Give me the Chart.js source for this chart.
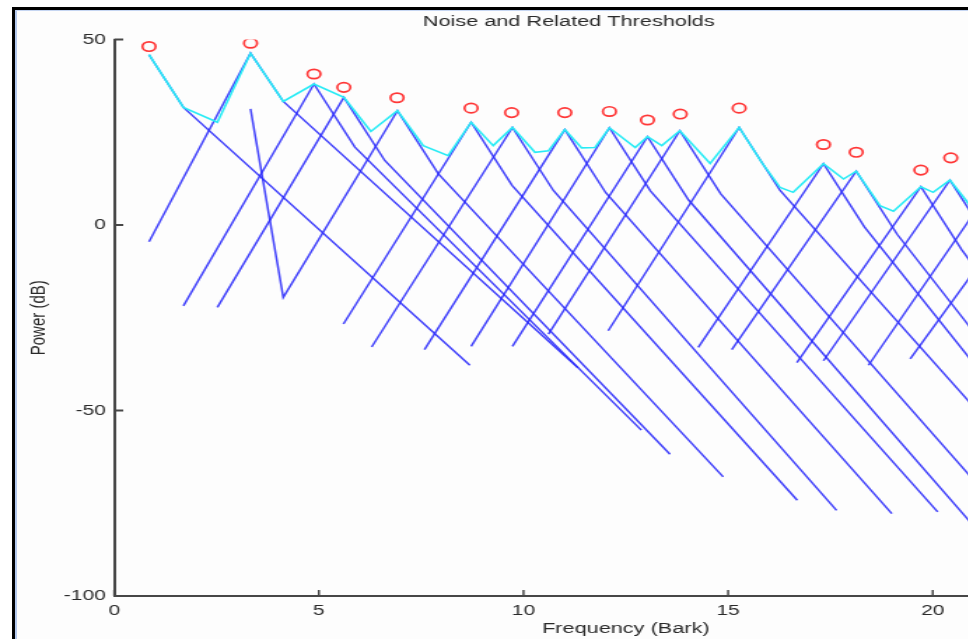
<!DOCTYPE html>
<html>
<head>
<meta charset="utf-8">
<script src="https://cdn.jsdelivr.net/npm/chart.js@4.4.0/dist/chart.umd.min.js"></script>
<style>
html,body{margin:0;padding:0;width:968px;height:639px;overflow:hidden;background:#ffffff;}
#frame{position:absolute;left:12px;top:7px;width:1000px;height:700px;border-left:3px solid #000;border-top:3px solid #000;}
#inner{position:absolute;left:0;top:0;right:0;bottom:0;border-left:2px solid #b4c9ee;border-top:1px solid #c6d6f2;background:#fdfdfd;}
#wrap{position:absolute;left:0;top:0;width:894px;height:639px;transform:scaleX(1.4);transform-origin:0 0;}
</style>
</head>
<body>
<div id="frame"><div id="inner"></div></div>
<div id="wrap"><canvas id="c" width="894" height="639"></canvas></div>
<script>
// ---- values (x: Bark, y: dB) ----
const xTickValues = [0, 5, 10, 15, 20];
const yTickValues = [-100, -50, 0, 50];

// maskers (red circles)
const maskerBark  = [0.85, 3.33, 4.88, 5.61, 6.91, 8.72, 9.71, 11.01, 12.10, 13.03, 13.83, 15.27, 17.33, 18.13, 19.71, 20.44];
const maskerPower = [48.1, 49.0, 40.7, 37.1, 34.3, 31.5, 30.3, 30.3, 30.6, 28.3, 29.9, 31.5, 21.7, 19.6, 14.8, 18.1];

// global masking threshold (cyan)
const thrBark = [0.85, 1.69, 2.52, 3.33, 4.13, 4.88, 5.61, 6.27, 6.92, 7.55, 8.16, 8.72, 9.26, 9.73, 10.28, 10.61, 11.01, 11.42, 11.75, 12.10, 12.73, 13.03, 13.38, 13.82, 14.56, 15.27, 15.82, 16.27, 16.59, 17.33, 17.82, 18.13, 18.71, 19.04, 19.71, 20.01, 20.42, 20.86, 21.05];
const thrDb   = [45.9, 31.7, 27.7, 46.3, 33.3, 38.0, 34.4, 25.2, 30.8, 21.4, 18.7, 27.7, 21.4, 26.3, 19.6, 20.0, 25.7, 20.8, 20.9, 26.2, 20.9, 23.8, 21.4, 25.4, 16.6, 26.3, 16.9, 10.1, 8.8, 16.5, 12.4, 14.5, 5.2, 3.7, 10.3, 8.8, 12.1, 6.0, 3.5];

// individual masking thresholds (blue), [Bark, dB] vertices
const m01 = [[0.85, 45.9], [1.69, 31.7], [8.69, -37.8]];
const m02 = [[0.85, -4.5], [3.33, 46.3], [4.13, 33.3], [11.33, -38.5]];
const m03 = [[1.69, -21.8], [4.88, 38.0], [5.88, 21.0], [12.88, -55.3]];
const m04 = [[2.52, -22.2], [5.61, 34.4], [6.61, 17.4], [13.58, -61.8]];
const m05 = [[3.33, 31.3], [4.13, -19.5], [6.92, 30.8], [7.92, 13.8], [14.88, -67.9]];
const m06 = [[5.60, -26.7], [8.72, 27.7], [9.72, 10.7], [16.69, -74.2]];
const m07 = [[6.29, -32.9], [9.73, 26.3], [10.73, 9.3], [17.65, -76.9]];
const m08 = [[7.58, -33.6], [11.01, 25.7], [12.01, 8.7], [19.00, -77.8]];
const m09 = [[8.72, -32.7], [12.10, 26.2], [13.10, 9.2], [20.12, -77.3]];
const m10 = [[9.73, -32.7], [13.03, 23.8], [14.03, 6.8], [21.03, -81.5]];
const m11 = [[10.61, -29.4], [13.82, 25.4], [14.82, 8.4], [21.82, -79.0]];
const m12 = [[12.07, -28.5], [15.27, 26.3], [16.27, 9.3], [23.27, -77.0]];
const m13 = [[14.27, -33.0], [17.33, 16.5], [18.33, -0.5], [25.33, -97.0]];
const m14 = [[15.09, -33.6], [18.13, 14.5], [19.13, -2.5], [26.13, -101.0]];
const m15 = [[16.68, -37.1], [19.71, 10.3], [20.71, -6.7], [27.70, -110.0]];
const m16 = [[17.33, -36.6], [20.42, 12.1], [21.42, -4.9], [28.40, -105.0]];
const m17 = [[18.43, -37.8], [21.50, 11.0], [22.50, -6.0], [29.50, -105.0]];
const m18 = [[19.45, -36.1], [22.50, 10.0], [23.50, -7.0], [30.50, -105.0]];
const spreadCurves = [m01, m02, m03, m04, m05, m06, m07, m08, m09, m10, m11, m12, m13, m14, m15, m16, m17, m18];

// ---- chart ----
const FONT = 'Liberation Sans, Arial, Helvetica, sans-serif';
const datasets = [];
datasets.push({
  data: maskerBark.map((b, i) => ({x: b, y: maskerPower[i]})),
  showLine: false, pointStyle: 'circle', pointRadius: 4.7, pointBorderWidth: 1.7,
  pointBorderColor: 'rgb(255,55,55)', pointBackgroundColor: 'rgba(0,0,0,0)'
});
datasets.push({
  data: thrBark.map((b, i) => ({x: b, y: thrDb[i]})),
  showLine: true, pointRadius: 0, borderColor: 'rgb(40,235,245)', borderWidth: 1.6, fill: false, tension: 0
});
spreadCurves.forEach(c => datasets.push({
  data: c.map(p => ({x: p[0], y: p[1]})),
  showLine: true, pointRadius: 0, borderColor: 'rgba(40,40,250,0.88)', borderWidth: 1.5, fill: false, tension: 0
}));

const inwardTicks = {
  id: 'inwardTicks',
  beforeDatasetsDraw(chart) {
    const {ctx, chartArea: a, scales: {x, y}} = chart;
    ctx.save();
    ctx.strokeStyle = '#474747';
    ctx.lineWidth = 1.5;
    x.ticks.forEach(t => {
      const px = x.getPixelForValue(t.value);
      ctx.beginPath(); ctx.moveTo(px, a.bottom); ctx.lineTo(px, a.bottom - 6); ctx.stroke();
    });
    ctx.lineWidth = 2;
    y.ticks.forEach(t => {
      const py = y.getPixelForValue(t.value);
      ctx.beginPath(); ctx.moveTo(a.left, py); ctx.lineTo(a.left + 6.4, py); ctx.stroke();
    });
    ctx.restore();
  }
};

new Chart(document.getElementById('c'), {
  type: 'scatter',
  data: {datasets},
  plugins: [inwardTicks],
  options: {
    responsive: false,
    animation: false,
    events: [],
    layout: {padding: {left: 0, right: 81.6, top: 0, bottom: 0}},
    plugins: {
      legend: {display: false},
      tooltip: {enabled: false},
      title: {
        display: true, text: 'Noise and Related Thresholds', color: '#2a2a2a',
        font: {family: FONT, size: 15.5, weight: 'normal'},
        padding: {top: 12.8, bottom: 8.1}
      }
    },
    scales: {
      x: {
        type: 'linear', min: 0, max: 25,
        afterBuildTicks: s => { s.ticks = xTickValues.map(v => ({value: v})); },
        afterFit: s => { s.height = 43; },
        grid: {display: false, drawTicks: false},
        border: {display: true, color: '#474747', width: 2},
        ticks: {padding: 6, color: '#2a2a2a', maxRotation: 0, autoSkip: false, font: {family: FONT, size: 15}},
        title: {display: true, text: 'Frequency (Bark)', color: '#2a2a2a', font: {family: FONT, size: 15.5}, padding: {top: 0, bottom: 1}}
      },
      y: {
        type: 'linear', min: -100, max: 50,
        afterBuildTicks: s => { s.ticks = yTickValues.map(v => ({value: v})); },
        afterFit: s => { s.width = 81.6; },
        grid: {display: false, drawTicks: false},
        border: {display: true, color: '#474747', width: 2},
        ticks: {padding: 6, color: '#2a2a2a', autoSkip: false, font: {family: FONT, size: 15}},
        title: {display: true, text: 'Power (dB)', color: '#2a2a2a', font: {family: FONT, size: 15}, padding: {top: 18.5, bottom: 0}}
      }
    }
  }
});
</script>
</body>
</html>
